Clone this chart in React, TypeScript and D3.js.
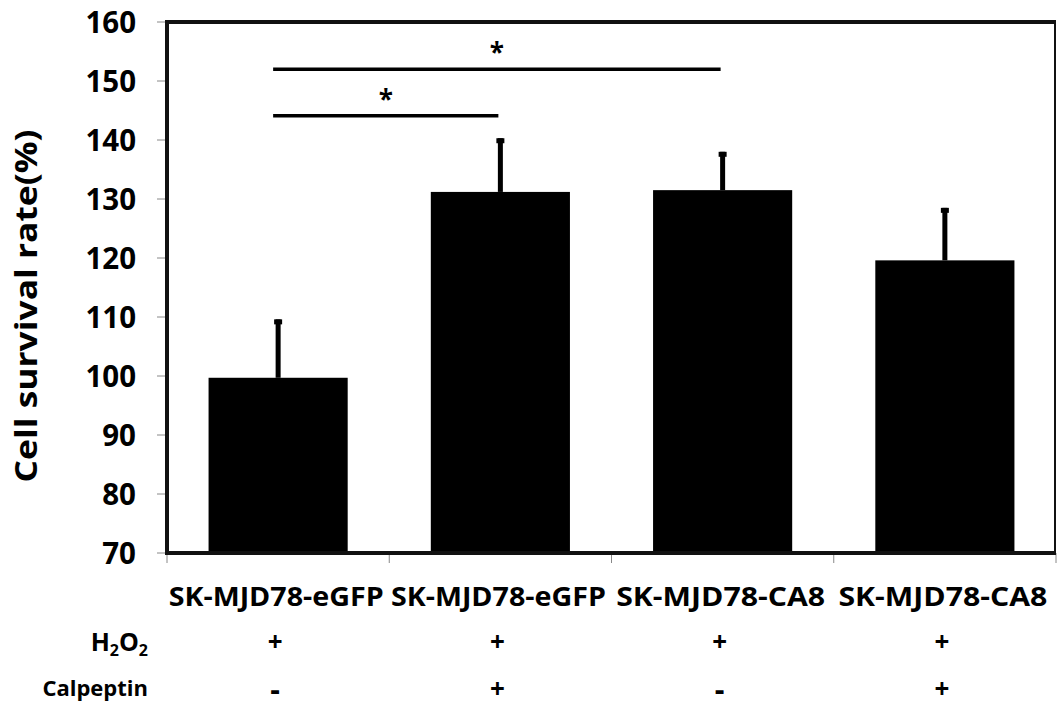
import React from "react";
import * as d3 from "d3";

const categories = ["SK-MJD78-eGFP", "SK-MJD78-eGFP", "SK-MJD78-CA8", "SK-MJD78-CA8"];
const means = [99.7, 131.2, 131.5, 119.6];
const errors = [9.9, 9.1, 6.5, 8.9];
const h2o2 = ["+", "+", "+", "+"];
const calpeptin = ["-", "+", "-", "+"];
const yTicks = [70, 80, 90, 100, 110, 120, 130, 140, 150, 160];
const sigFrom = [0, 0];
const sigTo = [1, 2];
const sigLevel = [144.1, 152.0];
const sigLabel = ["*", "*"];

const W = 1057;
const H = 709;
const font = "'Open Sans', 'DejaVu Sans', sans-serif";

export default function App() {
  const left = 167;
  const right = 1056;
  const top = 22;
  const bottom = 553;
  const x = d3.scaleBand<number>().domain(categories.map((_, i) => i)).range([left, right]).paddingInner(0).paddingOuter(0);
  const y = d3.scaleLinear().domain([70, 160]).range([bottom, top]);
  const bw = x.bandwidth();
  const barW = bw * 0.626;
  const cx = (i: number) => (x(i) as number) + bw / 2;

  return (
    <svg width={W} height={H} style={{ position: "absolute", left: 0, top: 0, background: "#fff" }} fontFamily={font}>
      <rect x={0} y={0} width={W} height={H} fill="#fff" />
      {/* y ticks */}
      {yTicks.map((t) => (
        <g key={t}>
          <line x1={157} x2={left} y1={y(t)} y2={y(t)} stroke="#888" strokeWidth={1} />
          <text x={136} y={y(t)} dy="0.36em" textAnchor="end" fontSize={29.5} fontWeight="bold" fill="#000">
            {t}
          </text>
        </g>
      ))}
      {/* x ticks */}
      {[0, 1, 2, 3, 4].map((i) => {
        const xx = i < 4 ? (x(i) as number) : right;
        return <line key={i} x1={xx} x2={xx} y1={bottom} y2={bottom + 10} stroke="#888" strokeWidth={1} />;
      })}
      {/* bars */}
      {means.map((m, i) => (
        <rect key={i} x={cx(i) - barW / 2} y={y(m)} width={barW} height={y(70) - y(m)} fill="#000" />
      ))}
      {/* error bars */}
      {means.map((m, i) => (
        <g key={i}>
          <rect x={cx(i) - 2.5} y={y(m + errors[i])} width={5} height={y(m) - y(m + errors[i])} fill="#000" />
          <rect x={cx(i) - 4} y={y(m + errors[i])} width={8} height={5} fill="#000" />
        </g>
      ))}
      {/* frame */}
      <line x1={left} x2={left} y1={top - 2} y2={bottom + 2} stroke="#111" strokeWidth={4} />
      <line x1={left - 2} x2={right} y1={top} y2={top} stroke="#111" strokeWidth={4} />
      <line x1={right - 1} x2={right - 1} y1={top} y2={bottom} stroke="#111" strokeWidth={2} />
      <line x1={left - 2} x2={right} y1={bottom} y2={bottom} stroke="#111" strokeWidth={4} />
      {/* significance */}
      {sigFrom.map((f, k) => {
        const x1 = cx(f) - 5;
        const x2 = cx(sigTo[k]) - 2;
        return (
          <g key={k}>
            <line x1={x1} x2={x2} y1={y(sigLevel[k])} y2={y(sigLevel[k])} stroke="#000" strokeWidth={3.5} />
            <text x={(x1 + x2) / 2} y={y(sigLevel[k]) - 7} textAnchor="middle" fontSize={26} fontWeight="bold" fill="#000">
              {sigLabel[k]}
            </text>
          </g>
        );
      })}
      {/* category labels */}
      {categories.map((c, i) => (
        <text
          key={i}
          x={cx(i) - 2}
          y={606}
          textAnchor="middle"
          fontSize={27}
          fontWeight="bold"
          fill="#000"
          textLength={c.includes("eGFP") ? 215 : 209}
          lengthAdjust="spacingAndGlyphs"
        >
          {c}
        </text>
      ))}
      {/* row labels */}
      <text x={148} y={651} textAnchor="end" fontSize={25} fontWeight="bold" fill="#000">
        H<tspan fontSize={16} dy={5}>2</tspan>
        <tspan dy={-5}>O</tspan>
        <tspan fontSize={16} dy={5}>2</tspan>
      </text>
      <text x={148} y={696} textAnchor="end" fontSize={22} fontWeight="bold" fill="#000">
        Calpeptin
      </text>
      {h2o2.map((s, i) => (
        <text key={i} x={cx(i) - 3} y={642} dy="0.36em" textAnchor="middle" fontSize={26} fontWeight="bold" fill="#000">
          {s}
        </text>
      ))}
      {calpeptin.map((s, i) => (
        <text key={i} x={cx(i) - 3} y={689} dy="0.36em" textAnchor="middle" fontSize={s === "-" ? 30 : 26} fontWeight="bold" fill="#000">
          {s}
        </text>
      ))}
      {/* y title */}
      <text
        transform={`translate(37,${306}) rotate(-90)`}
        textAnchor="middle"
        fontSize={30}
        fontWeight="bold"
        fill="#000"
        textLength={353}
        lengthAdjust="spacingAndGlyphs"
      >
        Cell survival rate(%)
      </text>
    </svg>
  );
}
